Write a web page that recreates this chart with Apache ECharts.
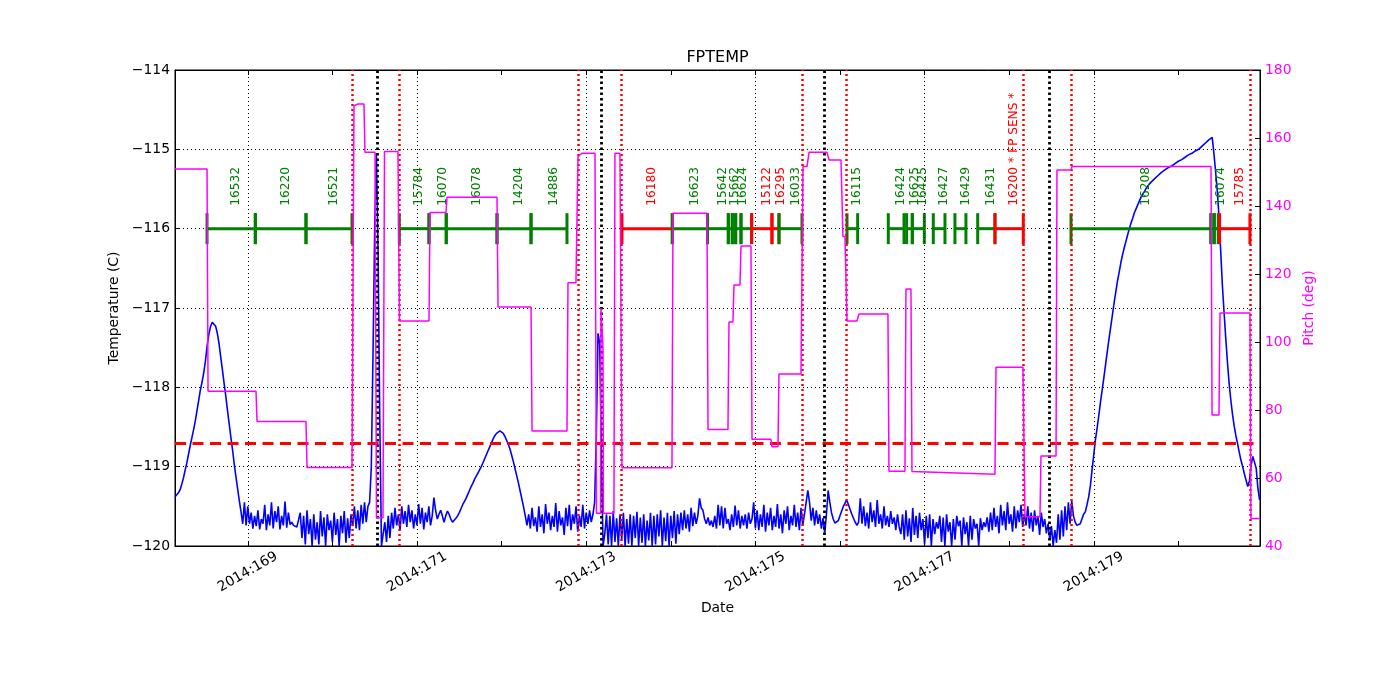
<!DOCTYPE html>
<html>
<head>
<meta charset="utf-8">
<script src="https://cdn.jsdelivr.net/npm/echarts@6/dist/echarts.min.js"></script>
<style>html,body{margin:0;padding:0;background:#fff}#chart{width:1400px;height:700px}</style>
</head>
<body>
<div id="chart"></div>
<script>
// ---- axis ranges / ticks (day of year 2014) ----
const xMinDay = 168.1395, xMaxDay = 180.965;
const xTickDays = [169,170,171,172,173,174,175,176,177,178,179,180];
const xLabelDays = [169,171,173,175,177,179];
const xGridDays = [169,171,173,175,177,179];
const tempMin = -120, tempMax = -114, tempStep = 1;
const pitchMin = 40, pitchMax = 180, pitchStep = 20;

// ---- FPTEMP samples (start day + regular spacing) ----
const tempStartDay = 168.14, tempStepDays = 0.02;
const tempVals = [
-119.38,-119.36,-119.33,-119.29,-119.22,-119.14,-119.04,-118.95,-118.84,-118.73,
-118.63,-118.53,-118.42,-118.29,-118.16,-118.03,-117.93,-117.81,-117.66,-117.47,
-117.33,-117.23,-117.18,-117.18,-117.23,-117.32,-117.45,-117.62,-117.78,-117.95,
-118.11,-118.29,-118.46,-118.63,-118.79,-118.97,-119.13,-119.28,-119.43,-119.57,
-119.72,-119.45,-119.74,-119.50,-119.72,-119.58,-119.78,-119.62,-119.75,-119.55,
-119.79,-119.66,-119.72,-119.48,-119.80,-119.60,-119.74,-119.45,-119.78,-119.56,
-119.70,-119.50,-119.79,-119.62,-119.74,-119.44,-119.77,-119.58,-119.73,-119.70,
-119.74,-119.72,-119.76,-119.75,-119.58,-119.90,-119.62,-119.98,-119.55,-119.85,
-119.66,-120.00,-119.60,-119.92,-119.70,-119.98,-119.56,-119.88,-119.64,-120.00,
-119.60,-119.80,-119.68,-119.95,-119.58,-119.86,-119.66,-120.00,-119.62,-119.84,
-119.56,-119.96,-119.65,-119.90,-119.60,-119.75,-119.50,-119.78,-119.55,-119.80,
-119.48,-119.72,-119.45,-119.70,-119.50,-119.45,-119.00,-117.60,-116.00,-115.05,
-116.30,-118.40,-120.00,-119.85,-119.70,-119.95,-119.62,-119.90,-119.58,-119.78,
-119.52,-119.74,-119.60,-119.80,-119.50,-119.72,-119.56,-119.76,-119.48,-119.70,
-119.55,-119.78,-119.60,-119.74,-119.47,-119.72,-119.52,-119.79,-119.58,-119.70,
-119.50,-119.74,-119.62,-119.39,-119.55,-119.66,-119.60,-119.55,-119.62,-119.70,
-119.62,-119.56,-119.60,-119.66,-119.70,-119.68,-119.65,-119.62,-119.58,-119.53,
-119.48,-119.44,-119.40,-119.35,-119.30,-119.25,-119.21,-119.16,-119.12,-119.08,
-119.04,-119.00,-118.95,-118.90,-118.85,-118.80,-118.75,-118.70,-118.65,-118.61,
-118.58,-118.56,-118.55,-118.56,-118.58,-118.62,-118.67,-118.72,-118.78,-118.86,
-118.94,-119.03,-119.12,-119.21,-119.31,-119.41,-119.51,-119.62,-119.74,-119.60,
-119.78,-119.52,-119.75,-119.64,-119.82,-119.50,-119.76,-119.60,-119.84,-119.47,
-119.72,-119.58,-119.80,-119.62,-119.76,-119.46,-119.82,-119.56,-119.74,-119.64,
-119.86,-119.52,-119.75,-119.48,-119.80,-119.60,-119.72,-119.50,-119.82,-119.62,
-119.76,-119.48,-119.78,-119.58,-119.72,-119.55,-119.70,-119.60,-119.45,-118.60,
-117.32,-117.45,-118.90,-120.00,-119.85,-119.60,-119.98,-119.62,-120.00,-119.56,
-119.95,-119.65,-120.00,-119.60,-119.92,-119.58,-120.00,-119.66,-119.97,-119.60,
-120.00,-119.62,-119.90,-119.57,-120.00,-119.64,-119.96,-119.60,-120.00,-119.68,
-119.93,-119.58,-120.00,-119.62,-119.98,-119.60,-119.88,-119.55,-120.00,-119.64,
-119.94,-119.58,-120.00,-119.62,-119.90,-119.56,-119.97,-119.60,-119.85,-119.58,
-119.80,-119.55,-119.78,-119.60,-119.82,-119.52,-119.75,-119.58,-119.72,-119.62,
-119.40,-119.52,-119.55,-119.66,-119.72,-119.64,-119.74,-119.68,-119.76,-119.62,
-119.78,-119.48,-119.74,-119.50,-119.78,-119.52,-119.72,-119.66,-119.80,-119.60,
-119.76,-119.49,-119.74,-119.55,-119.78,-119.62,-119.74,-119.60,-119.78,-119.58,
-119.72,-119.66,-119.45,-119.78,-119.55,-119.80,-119.60,-119.76,-119.48,-119.82,
-119.58,-119.74,-119.52,-119.80,-119.62,-119.76,-119.47,-119.78,-119.60,-119.84,
-119.55,-119.72,-119.50,-119.80,-119.62,-119.74,-119.48,-119.76,-119.58,-119.80,
-119.52,-119.74,-119.60,-119.45,-119.30,-119.45,-119.68,-119.52,-119.74,-119.55,
-119.72,-119.60,-119.78,-119.65,-119.84,-119.60,-119.30,-119.45,-119.58,-119.66,
-119.71,-119.73,-119.68,-119.62,-119.56,-119.50,-119.46,-119.42,-119.48,-119.54,
-119.60,-119.65,-119.70,-119.74,-119.70,-119.40,-119.72,-119.50,-119.75,-119.58,
-119.78,-119.45,-119.70,-119.55,-119.76,-119.42,-119.72,-119.60,-119.78,-119.50,
-119.74,-119.62,-119.76,-119.56,-119.72,-119.64,-119.80,-119.60,-119.76,-119.85,
-119.60,-119.92,-119.55,-119.88,-119.65,-119.95,-119.52,-119.86,-119.62,-119.90,
-119.58,-119.80,-119.66,-119.98,-119.62,-119.90,-119.60,-120.00,-119.66,-119.85,
-119.70,-119.78,-119.62,-119.95,-119.64,-120.00,-119.60,-119.82,-119.70,-120.00,
-119.66,-119.92,-119.62,-119.75,-119.68,-120.00,-119.64,-119.85,-119.70,-120.00,
-119.62,-119.92,-119.66,-119.78,-119.72,-120.00,-119.65,-119.80,-119.70,-119.76,
-119.64,-119.82,-119.58,-119.80,-119.52,-119.76,-119.62,-119.84,-119.48,-119.74,
-119.56,-119.80,-119.45,-119.72,-119.60,-119.82,-119.50,-119.78,-119.55,-119.70,
-119.48,-119.76,-119.60,-119.74,-119.50,-119.78,-119.58,-119.82,-119.55,-119.74,
-119.62,-119.86,-119.58,-119.76,-119.66,-119.84,-119.72,-119.92,-119.75,-120.00,
-119.80,-119.96,-119.60,-119.92,-119.55,-119.88,-119.50,-119.80,-119.45,-119.72,
-119.43,-119.62,-119.70,-119.74,-119.75,-119.72,-119.66,-119.60,-119.57,-119.48,
-119.38,-119.24,-119.04,-118.85,-118.66,-118.51,-118.35,-118.18,-118.03,-117.87,
-117.71,-117.55,-117.39,-117.24,-117.09,-116.94,-116.80,-116.66,-116.55,-116.43,
-116.33,-116.24,-116.16,-116.08,-116.00,-115.93,-115.87,-115.80,-115.75,-115.70,
-115.65,-115.60,-115.56,-115.53,-115.49,-115.46,-115.44,-115.41,-115.39,-115.37,
-115.35,-115.33,-115.31,-115.29,-115.28,-115.26,-115.25,-115.23,-115.22,-115.21,
-115.19,-115.18,-115.17,-115.15,-115.14,-115.13,-115.11,-115.10,-115.08,-115.07,
-115.06,-115.05,-115.03,-115.02,-115.01,-115.00,-114.98,-114.96,-114.94,-114.92,
-114.90,-114.88,-114.87,-114.85,-115.05,-115.28,-115.52,-115.85,-116.27,-116.71,
-117.05,-117.38,-117.68,-117.95,-118.16,-118.34,-118.49,-118.61,-118.71,-118.82,
-118.92,-119.00,-119.09,-119.17,-119.25,-119.18,-118.98,-118.87,-118.88,-119.02,
-119.27,-119.42
];

// ---- Pitch (deg) step profile: [day, pitch] ----
const pitchPoints = [
[168.14,150.9],[168.518,150.9],[168.53,85.5],[169.097,85.5],[169.109,76.6],[169.688,76.6],
[169.7,63.1],[170.232,63.1],[170.255,169.5],[170.303,170],[170.373,170],[170.385,155.8],
[170.504,155.8],[170.521,48.3],[170.598,48.3],[170.616,156],[170.775,156],[170.793,106.2],
[171.142,106.2],[171.154,138.1],[171.343,138.1],[171.355,142.6],[171.946,142.6],[171.958,110.3],
[172.348,110.3],[172.36,73.8],[172.773,73.8],[172.785,117.4],[172.879,117.4],[172.903,154.5],
[172.95,155.5],[173.104,155.5],[173.122,49.6],[173.169,49.6],[173.175,110],[173.193,110],
[173.199,98],[173.204,49.6],[173.328,49.6],[173.34,155.5],[173.399,155.5],[173.423,63],
[174.014,63],[174.026,137.9],[174.428,137.9],[174.44,74.3],[174.676,74.3],[174.688,105.9],
[174.735,105.9],[174.747,116.8],[174.818,116.8],[174.83,128.2],[174.948,128.2],[174.96,71.4],
[175.184,71.4],[175.196,69.2],[175.267,69.2],[175.279,90.6],[175.539,90.6],[175.563,151.6],
[175.61,151.6],[175.634,155.8],[175.847,155.8],[175.871,153.5],[176.012,153.5],[176.035,131],
[176.059,131],[176.083,106.2],[176.201,106.2],[176.224,108.2],[176.567,108.2],[176.579,62],
[176.768,62],[176.78,115.6],[176.839,115.6],[176.851,61.9],[177.832,61.1],[177.844,92.6],
[178.163,92.6],[178.187,48.6],[178.364,48.6],[178.376,66.5],[178.554,66.5],[178.565,150.6],
[178.731,150.6],[178.743,151.6],[180.386,151.6],[180.398,78.5],[180.48,78.5],[180.492,108.5],
[180.846,108.5],[180.858,48.1],[180.965,48.1]
];

// ---- observations: [start day, end day, obsid label, status g/r] ----
const obsLevel = -116;
const obsBars = [
[168.518,169.089,'16532','g'],[169.089,169.688,'16220','g'],[169.688,170.232,'16521','g'],
[170.791,171.142,'15784','g'],[171.142,171.346,'16070','g'],[171.346,171.946,'16078','g'],
[171.946,172.348,'14204','g'],[172.348,172.773,'14886','g'],[173.423,174.018,'16180','r'],
[174.018,174.434,'16623','g'],[174.434,174.680,'15642','g'],[174.680,174.727,'15662','g'],
[174.727,174.767,'','g'],[174.767,174.830,'16624','g'],[174.830,174.956,'','g'],
[174.956,175.196,'15122','r'],[175.196,175.279,'16295','r'],[175.279,175.551,'16033','g'],
[176.083,176.209,'16115','g'],[176.571,176.757,'16424','g'],[176.788,176.855,'16625','g'],
[176.855,176.997,'16425','g'],[177.103,177.241,'16427','g'],[177.359,177.489,'16429','g'],
[177.628,177.832,'16431','g'],[177.832,178.167,'16200 * FP SENS *','r'],
[178.731,180.385,'16208','g'],[180.385,180.424,'','g'],[180.424,180.472,'16074','g'],
[180.486,180.846,'15785','r']
];

// ---- limit line and event markers ----
const planningLimit = -118.7;
const radZoneDays = [170.232,170.791,172.907,173.420,175.554,176.079,178.167,178.731,180.852];
const perigeeDays = [170.531,173.183,175.823,178.474];

// ---------------------------------------------------------------
const FONT = 'DejaVu Sans';
const tempData = tempVals.map((v, i) => [tempStartDay + i * tempStepDays, v]);
const obsColor = s => s === 'r' ? '#ff0000' : '#008000';
const minus = v => String(v).replace('-', '\u2212');

const chart = echarts.init(document.getElementById('chart'), null, {renderer: 'canvas'});
const vline = (days, style) => ({
  type: 'line', data: [], xAxisIndex: 0, yAxisIndex: 0,
  markLine: {silent: true, symbol: 'none', animation: false, label: {show: false},
    lineStyle: style, emphasis: {disabled: true},
    data: days.map(d => ({xAxis: d}))}
});

const option = {
  animation: false,
  backgroundColor: '#ffffff',
  textStyle: {fontFamily: FONT},
  title: {text: 'FPTEMP', left: 717.5, top: 50, textAlign: 'center', padding: 0,
    textStyle: {fontSize: 16, fontWeight: 'normal', color: '#000', fontFamily: FONT}},
  grid: {left: 175, right: 140, top: 70, bottom: 154, show: true, borderColor: '#000', borderWidth: 1, backgroundColor: 'transparent'},
  xAxis: [
    {type: 'value', min: xMinDay, max: xMaxDay, position: 'bottom',
     name: 'Date', nameLocation: 'middle', nameGap: 52,
     nameTextStyle: {fontSize: 13.9, color: '#000', fontFamily: FONT},
     axisLine: {show: true, onZero: false, lineStyle: {color: '#000', width: 1}},
     axisTick: {show: true, inside: true, length: 5, customValues: xTickDays, lineStyle: {color: '#000'}},
     axisLabel: {show: true, customValues: xLabelDays, formatter: v => '2014:' + v, rotate: 30,
       align: 'center', verticalAlign: 'middle', margin: 26, fontSize: 13.9, color: '#000', fontFamily: FONT},
     splitLine: {show: false}},
    {type: 'value', min: xMinDay, max: xMaxDay, position: 'top',
     axisLine: {show: true, onZero: false, lineStyle: {color: '#000', width: 1}},
     axisTick: {show: true, inside: true, length: 5, customValues: xTickDays, lineStyle: {color: '#000'}},
     axisLabel: {show: false}, splitLine: {show: false}}
  ],
  yAxis: [
    {type: 'value', min: tempMin, max: tempMax, interval: tempStep, position: 'left',
     name: 'Temperature (C)', nameLocation: 'middle', nameGap: 45, nameRotate: 90,
     nameTextStyle: {fontSize: 13.9, color: '#000', fontFamily: FONT},
     axisLine: {show: true, onZero: false, lineStyle: {color: '#000', width: 1}},
     axisTick: {show: true, inside: true, length: 5, lineStyle: {color: '#000'}},
     axisLabel: {formatter: minus, margin: 5, fontSize: 13.9, color: '#000', fontFamily: FONT},
     splitLine: {show: true, lineStyle: {color: '#000', type: [1, 3], width: 1}}},
    {type: 'value', min: pitchMin, max: pitchMax, interval: pitchStep, position: 'right',
     name: 'Pitch (deg)', nameLocation: 'middle', nameGap: 31, nameRotate: 90,
     nameTextStyle: {fontSize: 13.9, color: '#ff00ff', fontFamily: FONT},
     axisLine: {show: true, onZero: false, lineStyle: {color: '#000', width: 1}},
     axisTick: {show: true, inside: true, length: 5, lineStyle: {color: '#000'}},
     axisLabel: {margin: 5, fontSize: 13.9, color: '#ff00ff', fontFamily: FONT},
     splitLine: {show: false}}
  ],
  series: [
    Object.assign(vline(xGridDays, {color: '#000', type: [1, 3], width: 1}), {z: 1}),
    {type: 'line', name: 'FPTEMP', data: tempData, xAxisIndex: 0, yAxisIndex: 0, z: 2,
     showSymbol: false, symbol: 'none', sampling: null, silent: true,
     lineStyle: {color: '#0000ff', width: 1.6}, itemStyle: {color: '#0000ff'}},
    {type: 'custom', name: 'obs', xAxisIndex: 0, yAxisIndex: 0, z: 3, clip: false, silent: true,
     data: obsBars.map(b => [b[0], b[1], obsLevel]),
     encode: {x: [0, 1], y: 2},
     renderItem: (params, api) => {
       const row = obsBars[params.dataIndex];
       const col = obsColor(row[3]);
       const p1 = api.coord([api.value(0), api.value(2)]);
       const p2 = api.coord([api.value(1), api.value(2)]);
       const yTop = api.coord([api.value(0), api.value(2) + 0.195])[1];
       const yBot = api.coord([api.value(0), api.value(2) - 0.195])[1];
       const ls = {stroke: col, lineWidth: 3};
       const children = [
         {type: 'line', shape: {x1: p1[0], y1: p1[1], x2: p2[0], y2: p2[1]}, style: ls},
         {type: 'line', shape: {x1: p1[0], y1: yTop, x2: p1[0], y2: yBot}, style: ls},
         {type: 'line', shape: {x1: p2[0], y1: yTop, x2: p2[0], y2: yBot}, style: ls}
       ];
       if (row[2]) {
         children.push({type: 'text', x: (p1[0] + p2[0]) / 2 + 5, y: p1[1] - 23, rotation: Math.PI / 2,
           style: {text: row[2], fill: col, fontSize: 12.2, fontFamily: FONT, align: 'left', verticalAlign: 'middle'}});
       }
       return {type: 'group', children};
     }},
    {type: 'line', data: [], xAxisIndex: 0, yAxisIndex: 0, z: 4,
     markLine: {silent: true, symbol: 'none', animation: false, label: {show: false},
       lineStyle: {color: '#ff0000', width: 3, type: [11, 6.5]},
       data: [{yAxis: planningLimit}]}},
    Object.assign(vline(radZoneDays, {color: '#ff0000', type: [2, 3], width: 2.5}), {z: 5}),
    Object.assign(vline(perigeeDays, {color: '#000000', type: [2.5, 3], width: 2.8}), {z: 5}),
    {type: 'line', name: 'Pitch', data: pitchPoints, xAxisIndex: 0, yAxisIndex: 1, z: 6,
     showSymbol: false, symbol: 'none', silent: true,
     lineStyle: {color: '#ff00ff', width: 1.5}, itemStyle: {color: '#ff00ff'}}
  ]
};
chart.setOption(option);
</script>
</body>
</html>
